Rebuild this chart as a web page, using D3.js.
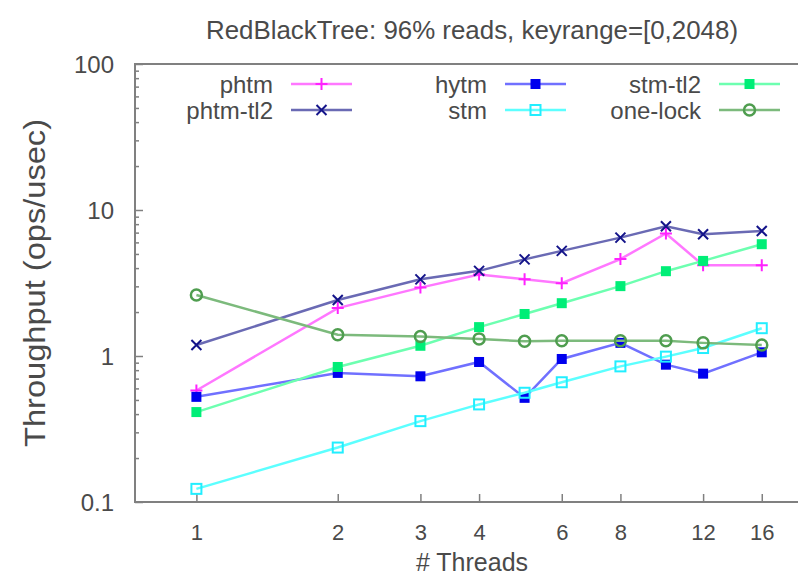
<!DOCTYPE html>
<html>
<head>
<meta charset="utf-8">
<script src="https://cdn.jsdelivr.net/npm/d3@7"></script>
<style>
  html, body { margin: 0; padding: 0; background: #fff; }
  svg { display: block; }
  text { font-family: "Liberation Sans", Arial, sans-serif; fill: #4a4a4a; }
</style>
</head>
<body>
<svg id="chart" width="798" height="577"></svg>
<script>
// ---- data ----
const titleText = "RedBlackTree: 96% reads, keyrange=[0,2048)";
const xLabel = "# Threads";
const yLabel = "Throughput (ops/usec)";
const threads = [1, 2, 3, 4, 5, 6, 8, 10, 12, 16];
const xTicks = [1, 2, 3, 4, 6, 8, 12, 16];
const yTicks = [0.1, 1, 10, 100];
const yTickLabels = ["0.1", "1", "10", "100"];
const seriesNames = ["phtm", "phtm-tl2", "hytm", "stm", "stm-tl2", "one-lock"];
const phtm    = [0.58, 2.13, 2.94, 3.62, 3.35, 3.15, 4.61, 6.9, 4.19, 4.19];
const phtmTl2 = [1.19, 2.42, 3.35, 3.83, 4.59, 5.25, 6.47, 7.73, 6.82, 7.18];
const hytm    = [0.525, 0.766, 0.726, 0.91, 0.517, 0.954, 1.23, 0.872, 0.757, 1.06];
const stm     = [0.123, 0.236, 0.358, 0.466, 0.56, 0.661, 0.849, 0.99, 1.134, 1.55];
const stmTl2  = [0.413, 0.841, 1.175, 1.577, 1.94, 2.30, 3.01, 3.81, 4.48, 5.83];
const oneLock = [2.62, 1.40, 1.36, 1.31, 1.26, 1.27, 1.27, 1.27, 1.23, 1.19];

// ---- styles ----
const styles = [
  { line: "#ff77ff", mark: "#ff22ff", shape: "plus" },
  { line: "#6a6ab4", mark: "#14148a", shape: "cross" },
  { line: "#7070ff", mark: "#0000ee", shape: "fsquare" },
  { line: "#5cffff", mark: "#22eeff", shape: "osquare" },
  { line: "#6dffb0", mark: "#00ee77", shape: "fsquare" },
  { line: "#7cba7c", mark: "#4f9d4f", shape: "ocircle" }
];
const allValues = [phtm, phtmTl2, hytm, stm, stmTl2, oneLock];

const svg = d3.select("#chart");
const pLeft = 135, pTop = 64, pBottom = 502, pRight = 800;

const x = d3.scaleLog().base(2).domain([0.74, 19.3]).range([pLeft, pRight]);
const y = d3.scaleLog().domain([0.1, 100]).range([pBottom, pTop]);

// title
svg.append("text").attr("x", 472).attr("y", 39).attr("text-anchor", "middle")
  .style("font-size", "25px").attr("textLength", 532).attr("lengthAdjust", "spacingAndGlyphs")
  .text(titleText);

// y label
svg.append("text").attr("transform", "translate(45,283) rotate(-90)")
  .attr("text-anchor", "middle").style("font-size", "30px")
  .attr("textLength", 328).attr("lengthAdjust", "spacingAndGlyphs").text(yLabel);

// x label
svg.append("text").attr("x", 472).attr("y", 571).attr("text-anchor", "middle")
  .style("font-size", "25px").text(xLabel);

// axes ticks
const axisColor = "#808080";
const gx = svg.append("g").attr("transform", `translate(0,${pBottom})`)
  .call(d3.axisBottom(x).tickValues(xTicks).tickFormat(d3.format("d")).tickSizeInner(-8).tickSizeOuter(0).tickPadding(22));
gx.select(".domain").remove();
gx.selectAll("line").attr("stroke", axisColor).attr("stroke-width", 1.5);
gx.selectAll("text").style("font-size", "22px").attr("fill", "#4a4a4a");

const minorY = [];
[0.1, 1, 10].forEach(d => { for (let k = 2; k <= 9; k++) minorY.push(d * k); });
const gym = svg.append("g").attr("transform", `translate(${pLeft},0)`)
  .call(d3.axisLeft(y).tickValues(minorY).tickFormat("").tickSizeInner(-4).tickSizeOuter(0));
gym.select(".domain").remove();
gym.selectAll("line").attr("stroke", axisColor).attr("stroke-width", 1.5);

const gy = svg.append("g").attr("transform", `translate(${pLeft},0)`)
  .call(d3.axisLeft(y).tickValues(yTicks).tickFormat((d, i) => yTickLabels[i]).tickSizeInner(-8).tickSizeOuter(0).tickPadding(21));
gy.select(".domain").remove();
gy.selectAll("line").attr("stroke", axisColor).attr("stroke-width", 1.5);
gy.selectAll("text").style("font-size", "24px").attr("fill", "#4a4a4a").attr("dy", "0.36em");

// border
svg.append("path")
  .attr("d", `M${pRight},${pTop}H${pLeft}V${pBottom}H${pRight}`)
  .attr("fill", "none").attr("stroke", axisColor).attr("stroke-width", 2);

// markers
function drawMarker(g, shape, color, cx, cy) {
  if (shape === "plus") {
    g.append("path").attr("d", `M${cx-6},${cy}H${cx+6}M${cx},${cy-6}V${cy+6}`)
      .attr("stroke", color).attr("stroke-width", 2).attr("fill", "none");
  } else if (shape === "cross") {
    g.append("path").attr("d", `M${cx-5},${cy-5}L${cx+5},${cy+5}M${cx-5},${cy+5}L${cx+5},${cy-5}`)
      .attr("stroke", color).attr("stroke-width", 2).attr("fill", "none");
  } else if (shape === "fsquare") {
    g.append("rect").attr("x", cx-5).attr("y", cy-5).attr("width", 10).attr("height", 10)
      .attr("fill", color);
  } else if (shape === "osquare") {
    g.append("rect").attr("x", cx-5).attr("y", cy-5).attr("width", 10).attr("height", 10)
      .attr("fill", "none").attr("stroke", color).attr("stroke-width", 2);
  } else if (shape === "ocircle") {
    g.append("circle").attr("cx", cx).attr("cy", cy).attr("r", 5.5)
      .attr("fill", "none").attr("stroke", color).attr("stroke-width", 2.5);
  }
}

svg.append("clipPath").attr("id", "clip").append("rect")
  .attr("x", pLeft).attr("y", pTop).attr("width", pRight - pLeft).attr("height", pBottom - pTop);
const plot = svg.append("g").attr("clip-path", "url(#clip)");
const line = d3.line().x(d => x(d[0])).y(d => y(d[1]));

allValues.forEach((vals, si) => {
  const st = styles[si];
  const pts = threads.map((t, i) => [t, vals[i]]);
  const g = plot.append("g");
  g.append("path").datum(pts).attr("d", line)
    .attr("fill", "none").attr("stroke", st.line).attr("stroke-width", 2.5);
  pts.forEach(p => drawMarker(g, st.shape, st.mark, x(p[0]), y(p[1])));
});

// legend
const legCols = [
  { textX: 273, lineX0: 291, lineX1: 352 },
  { textX: 487, lineX0: 505, lineX1: 566 },
  { textX: 701, lineX0: 719, lineX1: 780 }
];
const legRows = [84, 110];
seriesNames.forEach((name, si) => {
  const col = legCols[Math.floor(si / 2)];
  const ry = legRows[si % 2];
  const st = styles[si];
  const g = svg.append("g");
  g.append("text").attr("x", col.textX).attr("y", ry).attr("dy", "0.36em")
    .attr("text-anchor", "end").style("font-size", "24px").text(name);
  g.append("line").attr("x1", col.lineX0).attr("x2", col.lineX1).attr("y1", ry).attr("y2", ry)
    .attr("stroke", st.line).attr("stroke-width", 2.5);
  drawMarker(g, st.shape, st.mark, (col.lineX0 + col.lineX1) / 2, ry);
});
</script>
</body>
</html>
